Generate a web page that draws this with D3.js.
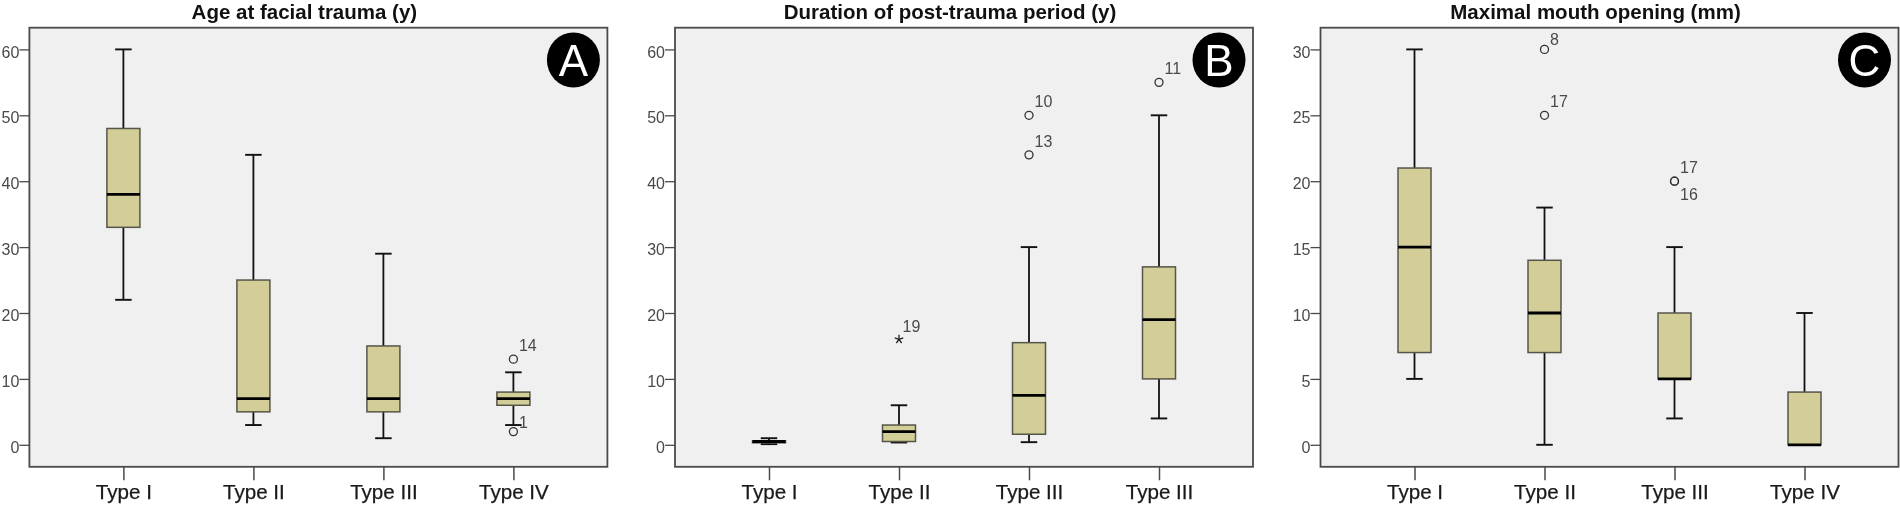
<!DOCTYPE html>
<html><head><meta charset="utf-8">
<script src="https://cdnjs.cloudflare.com/ajax/libs/d3/7.8.5/d3.min.js"></script>
<style>
html,body{margin:0;padding:0;background:#fff;}
svg{display:block;font-family:"Liberation Sans",Arial,sans-serif;filter:blur(0.3px);}
</style></head><body>
<svg id="chart" width="1900" height="506"></svg>
<script>
// Data: [low whisker, Q1, median, Q3, high whisker]
const titles = ["Age at facial trauma (y)", "Duration of post-trauma period (y)", "Maximal mouth opening (mm)"];
const badges = ["A", "B", "C"];
const categoriesA = ["Type I", "Type II", "Type III", "Type IV"];
const categoriesB = ["Type I", "Type II", "Type III", "Type III "];
const categoriesC = ["Type I", "Type II", "Type III", "Type IV"];
const ticksA = [0, 10, 20, 30, 40, 50, 60];
const ticksB = [0, 10, 20, 30, 40, 50, 60];
const ticksC = [0, 5, 10, 15, 20, 25, 30];
const domainTopA = 60, domainTopB = 60, domainTopC = 30;
const boxesA = [[22, 33, 38, 48, 60], [3, 5, 7, 25, 44], [1, 5, 7, 15, 29], [3, 6, 7, 8, 11]];
const boxesB = [[0.1, 0.3, 0.5, 0.6, 1], [0.35, 0.5, 2, 3, 6], [0.4, 1.6, 7.5, 15.5, 30], [4, 10, 19, 27, 50]];
const boxesC = [[5, 7, 15, 21, 30], [0, 7, 10, 14, 18], [2, 5, 5, 10, 15], [0, 0, 0, 4, 10]];
// Outliers: [category index, value, symbol, case label]
const outliersA = [[3, 13, "o", "14"], [3, 2, "o", "1"]];
const outliersB = [[1, 16, "*", "19"], [2, 50, "o", "10"], [2, 44, "o", "13"], [3, 55, "o", "11"]];
const outliersC = [[1, 30, "o", "8"], [1, 25, "o", "17"], [2, 20, "o", "17"], [2, 20, "o", "16"]];

const panels = [
  {cats: categoriesA, ticks: ticksA, top: domainTopA, boxes: boxesA, out: outliersA, left: 29.4, title: titles[0], badge: badges[0]},
  {cats: categoriesB, ticks: ticksB, top: domainTopB, boxes: boxesB, out: outliersB, left: 675, title: titles[1], badge: badges[1]},
  {cats: categoriesC, ticks: ticksC, top: domainTopC, boxes: boxesC, out: outliersC, left: 1320.5, title: titles[2], badge: badges[2]}
];

const W = 578, T = 27.7, B = 466.8, Y0 = 444.8, Ytop = 49.4;
const svg = d3.select("#chart");

// SPSS extreme-value marker: a five-armed star
const star5 = {
  draw(ctx, size) {
    const r = Math.sqrt(size) / 2;
    for (let i = 0; i < 5; i++) {
      const a = -Math.PI / 2 + i * 2 * Math.PI / 5;
      ctx.moveTo(0, 0);
      ctx.lineTo(r * Math.cos(a), r * Math.sin(a));
    }
  }
};

function labelOffset(badge, o) {
  if (badge === "C" && o[3] === "16") return 19;
  if (badge === "A" && o[3] === "1") return -4;
  if (badge === "C" && o[3] === "8") return -4;
  if (o[2] === "*") return -7;
  return -8;
}

panels.forEach(p => {
  const g = svg.append("g").attr("transform", `translate(${p.left},0)`);
  const y = d3.scaleLinear().domain([0, p.top]).range([Y0, Ytop]);
  const pos = d3.scalePoint().domain(p.cats).range([94, 484]);

  g.append("rect").attr("x", 0).attr("y", T).attr("width", W).attr("height", B - T)
    .attr("fill", "#f0f0f0").attr("stroke", "#4a4a4a").attr("stroke-width", 1.8);

  const ya = d3.axisLeft(y).tickValues(p.ticks).tickSize(10).tickPadding(0).tickFormat(d3.format("d"));
  const yg = g.append("g").call(ya);
  yg.select(".domain").remove();
  yg.selectAll("line").attr("stroke", "#4a4a4a").attr("stroke-width", 1.3);
  yg.selectAll("text").attr("font-size", 16).attr("fill", "#4a4a4a").attr("font-family", "inherit")
    .attr("dy", "0.48em");

  const xa = d3.axisBottom(pos).tickSize(13.5).tickPadding(4.5).tickFormat(d => d.trim());
  const xg = g.append("g").attr("transform", `translate(0,${B})`).call(xa);
  xg.select(".domain").remove();
  xg.selectAll("line").attr("stroke", "#4a4a4a").attr("stroke-width", 1.5);
  xg.selectAll("text").attr("font-size", 20.6).attr("fill", "#1a1a1a").attr("font-family", "inherit")
    .attr("stroke", "#1a1a1a").attr("stroke-width", 0.25);

  const bw = 33, cw = 16.5;
  const items = g.selectAll("g.box").data(p.boxes).join("g").attr("class", "box")
    .attr("transform", (d, i) => `translate(${pos(p.cats[i])},0)`);
  items.append("line").attr("y1", d => y(d[0])).attr("y2", d => y(d[4]))
    .attr("stroke", "#111").attr("stroke-width", 1.8);
  [0, 4].forEach(k => items.append("line").attr("x1", -cw / 2).attr("x2", cw / 2)
    .attr("y1", d => y(d[k])).attr("y2", d => y(d[k]))
    .attr("stroke", "#111").attr("stroke-width", 1.9));
  items.append("rect").attr("x", -bw / 2).attr("width", bw)
    .attr("y", d => y(d[3])).attr("height", d => y(d[1]) - y(d[3]))
    .attr("fill", "#d3ce97").attr("stroke", "#55554a").attr("stroke-width", 1.5);
  items.append("line").attr("x1", -bw / 2).attr("x2", bw / 2)
    .attr("y1", d => y(d[2])).attr("y2", d => y(d[2]))
    .attr("stroke", "#000").attr("stroke-width", 2.8);

  p.out.forEach(o => {
    const cx = pos(p.cats[o[0]]), cy = y(o[1]);
    if (o[2] === "o") {
      g.append("circle").attr("cx", cx).attr("cy", cy).attr("r", 4)
        .attr("fill", "none").attr("stroke", "#333").attr("stroke-width", 1.3);
    } else {
      g.append("path").attr("transform", `translate(${cx},${cy})`)
        .attr("d", d3.symbol(star5, 81)())
        .attr("fill", "none").attr("stroke", "#222").attr("stroke-width", 1.3);
    }
    g.append("text").attr("x", cx + (o[2] === "*" ? 3.5 : 5.5)).attr("y", cy + labelOffset(p.badge, o))
      .attr("font-size", 16).attr("fill", "#4a4a4a").text(o[3]);
  });

  g.append("text").attr("x", W / 2 - 14).attr("y", 18.6).attr("text-anchor", "middle")
    .attr("font-size", 20.5).attr("font-weight", "bold").attr("fill", "#111").text(p.title);

  g.append("ellipse").attr("cx", W - 34).attr("cy", 60).attr("rx", 26.5).attr("ry", 27.5).attr("fill", "#000");
  g.append("text").attr("x", W - 34).attr("y", 76).attr("text-anchor", "middle")
    .attr("font-size", 44).attr("fill", "#fff").text(p.badge);
});
</script>
</body></html>
